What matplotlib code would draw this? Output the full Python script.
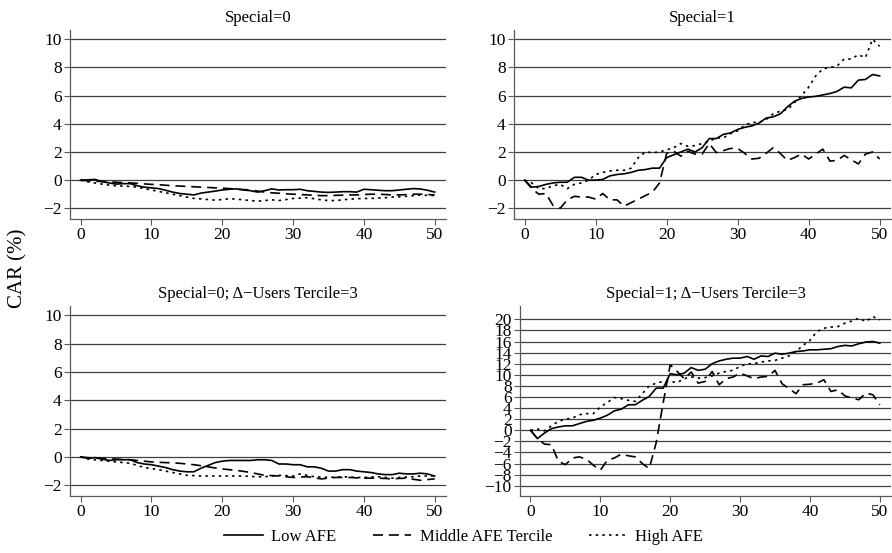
import matplotlib

matplotlib.use("Agg")
import matplotlib.pyplot as plt
import numpy as np

plt.rcParams["font.family"] = ["Liberation Serif", "DejaVu Serif"]
plt.rcParams["axes.unicode_minus"] = True

days = np.arange(0, 51)

# Special=0
s0_low = [0.0, 0.02, 0.05, -0.1, -0.2, -0.28, -0.25, -0.25, -0.4, -0.5, -0.55, -0.6, -0.72, -0.85, -0.95, -1.0,
          -1.05, -0.92, -0.85, -0.78, -0.7, -0.65, -0.62, -0.7, -0.75, -0.85, -0.75, -0.62, -0.7, -0.68, -0.68,
          -0.65, -0.75, -0.8, -0.85, -0.87, -0.85, -0.82, -0.82, -0.85, -0.65, -0.68, -0.72, -0.75, -0.75, -0.7,
          -0.65, -0.6, -0.63, -0.72, -0.85]
s0_mid = [0.0, -0.05, -0.08, -0.1, -0.12, -0.15, -0.18, -0.2, -0.23, -0.27, -0.3, -0.33, -0.36, -0.4, -0.42,
          -0.45, -0.47, -0.5, -0.52, -0.55, -0.57, -0.6, -0.64, -0.67, -0.7, -0.78, -0.85, -0.9, -0.93, -0.97, -1.0,
          -1.02, -1.05, -1.08, -1.1, -1.1, -1.08, -1.07, -1.05, -1.05, -1.02, -1.0, -1.0, -1.02, -1.05, -1.05,
          -1.03, -1.0, -1.0, -1.02, -1.05]
s0_high = [0.0, -0.12, -0.2, -0.28, -0.35, -0.4, -0.42, -0.45, -0.5, -0.6, -0.7, -0.8, -0.9, -1.0, -1.1, -1.2,
           -1.3, -1.33, -1.38, -1.42, -1.38, -1.32, -1.35, -1.4, -1.45, -1.5, -1.45, -1.4, -1.45, -1.38, -1.3,
           -1.28, -1.25, -1.32, -1.4, -1.45, -1.45, -1.4, -1.35, -1.32, -1.3, -1.3, -1.27, -1.25, -1.2, -1.18,
           -1.15, -1.1, -1.05, -1.08, -1.1]

# Special=1
s1_low = [0.0, -0.5, -0.45, -0.3, -0.2, -0.15, -0.15, 0.2, 0.2, 0.0, 0.0, 0.05, 0.3, 0.4, 0.45, 0.55, 0.7, 0.75,
          0.85, 0.85, 1.6, 1.8, 2.0, 2.2, 2.0, 2.3, 2.95, 2.95, 3.25, 3.35, 3.6, 3.75, 3.85, 4.05, 4.4, 4.5, 4.7,
          5.2, 5.6, 5.8, 5.9, 5.95, 6.05, 6.15, 6.3, 6.6, 6.55, 7.1, 7.15, 7.5, 7.4]
s1_mid = [0.0, -0.6, -1.0, -0.95, -1.8, -2.0, -1.4, -1.15, -1.2, -1.2, -1.35, -0.95, -1.4, -1.4, -1.85, -1.6,
          -1.35, -1.1, -0.85, -0.2, 1.9, 2.05, 1.7, 2.05, 1.85, 1.85, 2.6, 1.95, 2.1, 2.25, 2.25, 1.9, 1.5, 1.55,
          1.9, 2.3, 1.9, 1.4, 1.6, 1.85, 1.5, 1.85, 2.2, 1.35, 1.4, 1.75, 1.45, 1.15, 1.85, 2.0, 1.5]
s1_high = [0.0, -0.2, -0.6, -0.6, -0.4, -0.3, -0.6, -0.3, -0.2, 0.0, 0.4, 0.55, 0.65, 0.7, 0.7, 0.85, 1.6, 2.0,
           1.95, 2.0, 2.15, 2.3, 2.6, 2.4, 2.45, 2.6, 2.75, 3.0, 3.0, 3.3, 3.5, 3.9, 4.1, 4.1, 4.3, 4.7, 4.9, 5.0,
           5.5, 6.0, 6.6, 7.4, 7.9, 8.0, 8.1, 8.6, 8.6, 8.9, 8.7, 10.0, 9.5]

# Special=0; Delta-Users Tercile=3
s0u_low = [0.0, -0.1, -0.05, -0.15, -0.25, -0.2, -0.2, -0.2, -0.4, -0.5, -0.55, -0.65, -0.75, -0.9, -1.0, -1.05,
           -1.05, -0.8, -0.6, -0.4, -0.3, -0.25, -0.25, -0.25, -0.25, -0.2, -0.2, -0.25, -0.5, -0.5, -0.55, -0.55,
           -0.7, -0.7, -0.8, -1.0, -1.0, -0.9, -0.9, -1.0, -1.05, -1.1, -1.2, -1.25, -1.25, -1.15, -1.2, -1.2,
           -1.15, -1.2, -1.35]
s0u_mid = [0.0, -0.05, -0.08, -0.1, -0.12, -0.15, -0.18, -0.2, -0.25, -0.3, -0.35, -0.38, -0.4, -0.42, -0.45,
           -0.5, -0.55, -0.62, -0.7, -0.78, -0.85, -0.9, -0.95, -1.02, -1.1, -1.2, -1.3, -1.32, -1.35, -1.4, -1.45,
           -1.42, -1.4, -1.48, -1.55, -1.5, -1.45, -1.45, -1.45, -1.48, -1.5, -1.5, -1.5, -1.52, -1.55, -1.52,
           -1.5, -1.58, -1.65, -1.6, -1.55]
s0u_high = [0.0, -0.15, -0.2, -0.25, -0.3, -0.35, -0.4, -0.45, -0.6, -0.75, -0.82, -0.9, -1.0, -1.1, -1.2, -1.3,
            -1.32, -1.35, -1.35, -1.35, -1.35, -1.35, -1.35, -1.35, -1.38, -1.4, -1.4, -1.35, -1.3, -1.32, -1.35,
            -1.2, -1.3, -1.4, -1.42, -1.45, -1.42, -1.4, -1.42, -1.45, -1.45, -1.42, -1.4, -1.45, -1.5, -1.45,
            -1.42, -1.4, -1.35, -1.35, -1.35]

# Special=1; Delta-Users Tercile=3
s1u_low = [0.0, -1.5, -0.5, 0.3, 0.6, 0.8, 0.8, 1.2, 1.6, 1.8, 2.2, 2.7, 3.5, 3.8, 4.6, 4.6, 5.4, 6.1, 7.6, 7.6,
           10.2, 10.0, 10.3, 11.3, 10.8, 11.0, 12.0, 12.5, 12.8, 13.0, 13.0, 13.3, 12.8, 13.4, 13.3, 13.9, 13.7,
           13.9, 14.2, 14.3, 14.5, 14.5, 14.6, 14.7, 15.1, 15.3, 15.2, 15.6, 15.9, 16.0, 15.7]
s1u_mid = [0.0, -1.5, -2.5, -2.6, -5.6, -6.2, -5.0, -4.8, -5.2, -6.3, -7.2, -5.4, -5.0, -4.3, -4.6, -4.8, -6.0,
           -6.9, -2.2, 5.0, 11.8, 10.6, 9.3, 10.5, 8.5, 8.8, 10.6, 8.2, 9.3, 9.6, 10.3, 9.8, 9.3, 9.6, 9.7, 10.8,
           8.4, 7.5, 6.6, 8.2, 8.3, 8.5, 9.1, 7.0, 7.3, 6.2, 5.8, 5.5, 6.7, 6.4, 4.6]
s1u_high = [0.0, 0.2, -0.1, 0.8, 1.6, 2.0, 2.2, 2.8, 3.0, 3.0, 4.2, 5.0, 5.9, 5.7, 5.4, 5.2, 6.6, 8.0, 8.5, 8.8,
            8.8, 8.6, 9.3, 9.6, 9.4, 9.5, 9.8, 10.3, 10.6, 10.8, 11.5, 12.0, 12.0, 12.3, 12.5, 12.6, 13.0, 13.4,
            14.2, 15.3, 16.2, 17.8, 18.4, 18.6, 18.7, 19.3, 19.7, 20.2, 19.6, 20.5, 19.9]

titles = ["Special=0", "Special=1", "Special=0; \u0394\u2212Users Tercile=3", "Special=1; \u0394\u2212Users Tercile=3"]
panels = [(s0_low, s0_mid, s0_high), (s1_low, s1_mid, s1_high),
          (s0u_low, s0u_mid, s0u_high), (s1u_low, s1u_mid, s1u_high)]
small_ticks = np.arange(-2, 11, 2)
wide_ticks = np.arange(-10, 21, 2)
x_ticks = np.arange(0, 51, 10)

W, H = 892, 553
boxes = [(70, 30, 446, 219), (514, 30, 891, 219), (70, 306, 446, 496), (520, 306, 891, 496)]

fig = plt.figure(figsize=(W / 100, H / 100), dpi=100)
handles = None
for i, (title, series, box) in enumerate(zip(titles, panels, boxes)):
    l, t, r, b = box
    ax = fig.add_axes([l / W, 1 - b / H, (r - l) / W, (b - t) / H])
    low, mid, high = series
    h1, = ax.plot(days, low, color="black", lw=1.2, ls="-", label="Low AFE")
    h2, = ax.plot(days, mid, color="black", lw=1.2, ls=(0, (6, 3.5)), label="Middle AFE Tercile")
    h3, = ax.plot(days, high, color="black", lw=1.2, ls=(0, (1.5, 2.5)), label="High AFE")
    handles = [h1, h2, h3]
    if i == 3:
        yt = wide_ticks
        ax.set_ylim(-11.85, 22.4)
    else:
        yt = small_ticks
        ax.set_ylim(-2.76, 10.66)
    ax.set_yticks(yt)
    for v in yt:
        ax.axhline(v, color="0.25", lw=0.9, zorder=0)
    ax.set_xticks(x_ticks)
    ax.set_xlim(-1.5, 51.6)
    ax.set_title(title, fontsize=12, pad=6)
    for s in ["top", "right"]:
        ax.spines[s].set_visible(False)
    for s in ["left", "bottom"]:
        ax.spines[s].set_color("0.35")
        ax.spines[s].set_linewidth(0.9)
    ax.tick_params(axis="both", labelsize=12.5, color="0.35", length=4, pad=2)

fig.text(0.02, 0.515, "CAR (%)", rotation=90, ha="center", va="center", fontsize=15)
fig.legend(handles=handles, loc="lower center", bbox_to_anchor=(0.52, -0.012), ncol=3, frameon=False,
           fontsize=12, handlelength=2.3, columnspacing=2.2, handletextpad=0.5)

fig.savefig("out.png", dpi=100)
